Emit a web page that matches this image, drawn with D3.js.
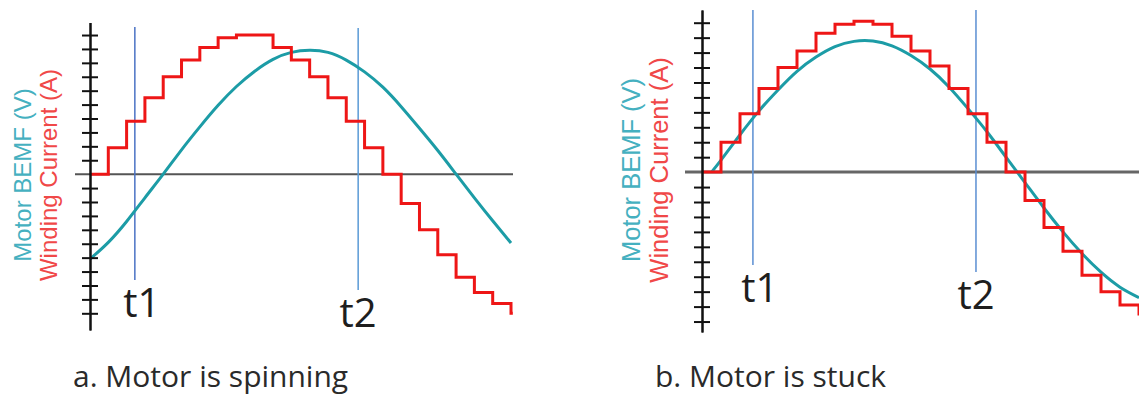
<!DOCTYPE html>
<html>
<head>
<meta charset="utf-8">
<script src="https://cdn.jsdelivr.net/npm/d3@7"></script>
<style>
  body { margin: 0; background: #fff; }
  svg { display: block; }
  .axis path, .axis line { stroke: #111; stroke-width: 2; }
  .current { fill: none; stroke: #ee1616; stroke-width: 3; }
  .bemf { fill: none; stroke: #1c9ca6; stroke-width: 3; }
  .tlabel { font-family: "Open Sans"; font-size: 40px; fill: #1e1e1e; }
  .caption { font-family: "Open Sans"; font-size: 30px; fill: #2a2a2a; }
  .ylab { font-family: "Liberation Sans"; }
</style>
</head>
<body>
<script>
// values: x in commutation steps, y in tick units

// a. motor spinning
var leftCurrent = [0, 1.9, 3.8, 5.5, 7.0, 8.2, 9.1, 9.8, 10, 10, 9.1, 8.2,
                   7.0, 5.5, 3.8, 1.9, 0, -2.1, -4.0, -5.8, -7.4, -8.5, -9.3, -10];
var leftBemfX = [0, 1, 2, 3, 4, 5, 6, 7, 8, 9, 10, 11,
                 12, 13, 14, 15, 16, 17, 18, 19, 20, 21, 22, 23];
var leftBemf = [-6.1, -4.9, -3.4, -1.7, 0, 1.75, 3.4, 4.95, 6.3, 7.4, 8.25, 8.75,
                8.9, 8.75, 8.2, 7.35, 6.25, 4.85, 3.3, 1.7, 0, -1.7, -3.35, -4.95];
var leftMarkers = [2.45, 14.65];

// b. motor stuck
var rightCurrent = [0, 2.0, 3.9, 5.6, 7.0, 8.1, 9.3, 9.9, 10.1, 9.9, 9.1, 8.1,
                    7.1, 5.6, 3.9, 2.0, 0, -1.9, -3.7, -5.3, -6.9, -8.0, -8.9, -9.5];
var rightBemfX = [0.5, 1, 2, 3, 4, 5, 6, 7, 8, 9, 10, 11,
                  12, 13, 14, 15, 16, 17, 18, 19, 20, 21, 22, 23];
var rightBemf = [0, 0.8, 2.5, 4.1, 5.5, 6.75, 7.7, 8.4, 8.75, 8.77, 8.45, 7.8,
                 6.9, 5.7, 4.25, 2.7, 1.0, -0.7, -2.4, -4.0, -5.45, -6.7, -7.7, -8.4];
var rightMarkers = [2.68, 14.42];

var markerNames = ["t1", "t2"];
var tickValues = [-10, -9, -8, -7, -6, -5, -4, -3, -2, -1, 1, 2, 3, 4, 5, 6, 7, 8, 9, 10];
var captions = ["a. Motor is spinning", "b. Motor is stuck"];
var bemfLabel = "Motor BEMF (V)",
    currentLabel = "Winding Current (A)";

var svg = d3.select("body").append("svg")
    .attr("width", 1139)
    .attr("height", 396);

// layout of both panels (pixels)
var panels = [
  { current: leftCurrent, bemfX: leftBemfX, bemf: leftBemf, markers: leftMarkers,
    caption: captions[0], capX: 73,
    xRange: [90, 511], xEnd: 23.1, yDomain: [-11.2, 10.9], yRange: [330, 22.5],
    zero: [75, 513], zeroColor: "#555", zeroWidth: 2,
    markTop: [27, 28], markBottom: [280, 290], markColor: ["#4a72c4", "#5a9ad6"],
    labBemfX: 31, labCurX: 57, labY: 175, labSize: 24 },
  { current: rightCurrent, bemfX: rightBemfX, bemf: rightBemf, markers: rightMarkers,
    caption: captions[1], capX: 655,
    xRange: [702, 1139], xEnd: 23.2, yDomain: [-10.7, 10.85], yRange: [332, 10],
    zero: [685, 1139], zeroColor: "#666", zeroWidth: 3,
    markTop: [10, 10], markBottom: [265, 272], markColor: ["#5a8ed2", "#5a8ed2"],
    labBemfX: 640, labCurX: 668, labY: 170, labSize: 25.5 }
];

panels.forEach(function (p) {
    var x = d3.scaleLinear().domain([0, 23]).range(p.xRange);
    var y = d3.scaleLinear().domain(p.yDomain).range(p.yRange);
    var g = svg.append("g");

    // zero line
    g.append("line")
        .attr("x1", p.zero[0]).attr("x2", p.zero[1])
        .attr("y1", y(0)).attr("y2", y(0))
        .style("stroke", p.zeroColor)
        .style("stroke-width", p.zeroWidth);

    // t1 / t2 markers
    p.markers.forEach(function (m, i) {
        g.append("line")
            .attr("x1", x(m)).attr("x2", x(m))
            .attr("y1", p.markTop[i]).attr("y2", p.markBottom[i])
            .style("stroke", p.markColor[i])
            .style("stroke-width", 1.5);
        g.append("text")
            .attr("class", "tlabel")
            .attr("x", x(m) + (i === 0 ? 7 : 0))
            .attr("y", p.markBottom[i] + 37)
            .attr("text-anchor", "middle")
            .text(markerNames[i]);
    });

    // BEMF curve
    var bemfLine = d3.line()
        .curve(d3.curveNatural)
        .x(function (d, i) { return x(p.bemfX[i]); })
        .y(function (d) { return y(d); });
    g.append("path")
        .datum(p.bemf)
        .attr("class", "bemf")
        .attr("d", bemfLine);

    // stepped winding current
    var pts = p.current.map(function (v, i) { return [i, v]; });
    pts.push([p.xEnd, p.current[p.current.length - 1]]);
    var stepLine = d3.line()
        .curve(d3.curveStepAfter)
        .x(function (d) { return x(d[0]); })
        .y(function (d) { return y(d[1]); });
    g.append("path")
        .datum(pts)
        .attr("class", "current")
        .attr("d", stepLine);

    // axis with ticks on both sides
    var ax = p.xRange[0];
    g.append("g")
        .attr("class", "axis")
        .attr("transform", "translate(" + ax + ",0)")
        .call(d3.axisLeft(y).tickValues(tickValues).tickFormat("").tickSize(8).tickSizeOuter(0));
    g.append("g")
        .attr("class", "axis")
        .attr("transform", "translate(" + ax + ",0)")
        .call(d3.axisRight(y).tickValues(tickValues).tickFormat("").tickSize(8).tickSizeOuter(0));

    // rotated axis titles
    g.append("text")
        .attr("class", "ylab")
        .attr("transform", "translate(" + p.labBemfX + "," + p.labY + ") rotate(-90)")
        .attr("text-anchor", "middle")
        .style("font-size", p.labSize + "px")
        .style("fill", "#45b0c0")
        .text(bemfLabel);
    g.append("text")
        .attr("class", "ylab")
        .attr("transform", "translate(" + p.labCurX + "," + p.labY + ") rotate(-90)")
        .attr("text-anchor", "middle")
        .style("font-size", p.labSize + "px")
        .style("fill", "#f04848")
        .text(currentLabel);

    // caption
    g.append("text")
        .attr("class", "caption")
        .attr("x", p.capX)
        .attr("y", 387)
        .text(p.caption);
});
</script>
</body>
</html>
